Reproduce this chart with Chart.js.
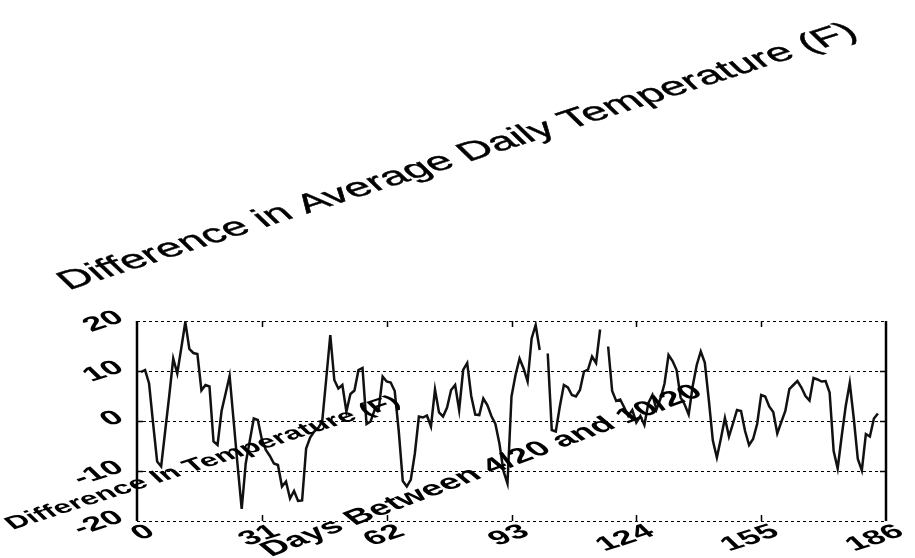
<!DOCTYPE html>
<html>
<head>
<meta charset="utf-8">
<script src="https://cdn.jsdelivr.net/npm/chart.js@4/dist/chart.umd.min.js"></script>
<style>
html,body{margin:0;padding:0;background:#fff;}
#wrap{width:915px;height:558px;}
</style>
</head>
<body>
<div id="wrap"><canvas id="c" width="915" height="558"></canvas></div>
<script>
// ---- data ----
const days = [1,2,3,4,5,6,7,8,9,10,11,12,13,14,15,16,17,18,19,20,21,22,23,24,25,26,27,28,29,30,
31,32,33,34,35,36,37,38,39,40,41,42,43,44,45,46,47,48,49,50,51,52,53,54,55,56,57,58,59,60,
61,62,63,64,65,66,67,68,69,70,71,72,73,74,75,76,77,78,79,80,81,82,83,84,85,86,87,88,89,90,
91,92,93,94,95,96,97,98,99,100,101,102,103,104,105,106,107,108,109,110,111,112,113,114,115,116,117,118,119,120,
121,122,123,124,125,126,127,128,129,130,131,132,133,134,135,136,137,138,139,140,141,142,143,144,145,146,147,148,149,150,
151,152,153,154,155,156,157,158,159,160,161,162,163,164,165,166,167,168,169,170,171,172,173,174,175,176,177,178,179,180,
181,182,183,184];
const tempDiff = [
9.8,10.2,7.5,-0.5,-8.1,-9.1,-2,5,12.5,9.5,
14.6,19.8,14.4,13.6,13.4,6.1,7.2,6.9,-4.1,-4.8,
2,5.5,9,0,-9,-17.6,-8.5,-4,0.5,0.2,
-3.7,-5.8,-7,-8.5,-8.8,-13.1,-12.1,-15.5,-14,-16,
-15.9,-5.5,-3.3,-2.1,-1.4,0,8.5,17.2,8.2,6.5,
7.2,1.9,5.4,6.1,10.2,10.6,-0.6,-0.1,2.2,2.2,
8.9,7.9,7.7,6,-2,-12,-13.1,-11.7,-6.5,0.9,
0.7,1.1,-1.1,6.3,1.7,0.9,2.7,6.2,7.2,2.2,
10.2,11.6,5,1.3,1.2,4.5,3.2,1,-0.6,-4.5,
-10,-12.5,4.9,9.2,12.5,10.5,7.9,16.5,19.2,14.2,
null,13.5,-1.8,-2.1,2.9,7.2,6.7,5.2,4.9,6.2,
9.9,10.3,12.9,11.6,18.3,null,14.9,6,4,4.3,
2.7,1,2.2,-0.3,1,-0.8,3.6,5.2,2.3,4.5,
7.5,13.2,12,10.2,4.7,3.3,1.3,7,11.2,13.9,
11.7,4.2,-3.9,-7.3,-3.5,0.6,-3.1,-0.5,2.2,2,
-2,-4.8,-3.6,-0.6,5.2,4.9,2.9,1.8,-2.5,-0.2,
2,6.4,7.2,8,6.7,5,4.1,8.6,8.3,7.9,
8,5.7,-6,-9.5,-3,3,7.6,0.5,-7.6,-9.9,
-2.6,-3.1,0.5,1.5];
const xTicks = [0,31,62,93,124,155,186];
const yTicks = [-20,-10,0,10,20];
const titleText = 'Difference in Average Daily Temperature (F)';
const xLabelText = 'Days Between 4/20 and 10/20';
const yLabelText = 'Difference In Temperature (F)';

const FAM = '"Liberation Sans", Arial, Helvetica, sans-serif';

function skewText(ctx, text, x, y, o) {
  ctx.save();
  ctx.translate(x, y);
  ctx.scale(o.k, 1);
  ctx.rotate(-o.angle * Math.PI / 180);
  ctx.font = o.font;
  ctx.textAlign = o.align || 'center';
  ctx.textBaseline = o.baseline || 'middle';
  ctx.fillStyle = '#000';
  ctx.fillText(text, 0, 0);
  if (o.stroke) {
    ctx.lineWidth = o.stroke;
    ctx.strokeStyle = '#000';
    ctx.strokeText(text, 0, 0);
  }
  ctx.restore();
}

const decor = {
  id: 'decor',
  afterDraw(chart) {
    const ctx = chart.ctx;
    const a = chart.chartArea;
    const xs = chart.scales.x, ys = chart.scales.y;
    ctx.save();
    ctx.strokeStyle = '#000';
    // left and right borders
    ctx.lineWidth = 2.5;
    ctx.beginPath();
    ctx.moveTo(a.left, a.top); ctx.lineTo(a.left, a.bottom);
    ctx.moveTo(a.right, a.top); ctx.lineTo(a.right, a.bottom);
    ctx.stroke();
    // inward tick marks
    ctx.lineWidth = 1.5;
    ctx.beginPath();
    xTicks.forEach(v => {
      if (v === xs.min || v === xs.max) return;
      const px = Math.round(xs.getPixelForValue(v)) + 0.5;
      ctx.moveTo(px, a.bottom); ctx.lineTo(px, a.bottom - 6);
      ctx.moveTo(px, a.top); ctx.lineTo(px, a.top + 6);
    });
    yTicks.forEach(v => {
      if (v === ys.min || v === ys.max) return;
      const py = Math.round(ys.getPixelForValue(v)) + 0.5;
      ctx.moveTo(a.left, py); ctx.lineTo(a.left + 6, py);
      ctx.moveTo(a.right, py); ctx.lineTo(a.right - 6, py);
    });
    ctx.stroke();
    ctx.restore();

    const K = 1.8;
    // y tick labels
    yTicks.forEach(v => {
      skewText(ctx, String(v), a.left - 16, ys.getPixelForValue(v) - 5,
        {k: K, angle: 30, font: 'bold 20px ' + FAM, align: 'right'});
    });
    // x tick labels
    xTicks.forEach(v => {
      skewText(ctx, String(v), xs.getPixelForValue(v) + 15, a.bottom + 9,
        {k: K, angle: 30, font: 'bold 20px ' + FAM, align: 'right'});
    });
    // title
    skewText(ctx, titleText, 458, 157, {k: K, angle: 30, font: '26px ' + FAM, stroke: 0.4});
    // y label
    skewText(ctx, yLabelText, 203, 463, {k: K, angle: 30, font: 'bold 18px ' + FAM});
    // x label
    skewText(ctx, xLabelText, 482, 471, {k: K, angle: 34, font: 'bold 21px ' + FAM});
  }
};

new Chart(document.getElementById('c'), {
  type: 'line',
  data: {
    datasets: [{
      data: days.map((d, i) => ({x: d, y: tempDiff[i]})),
      borderColor: '#111',
      borderWidth: 2.5,
      pointRadius: 0,
      tension: 0,
      spanGaps: false,
      fill: false
    }]
  },
  options: {
    responsive: false,
    animation: false,
    events: [],
    layout: {padding: {left: 137, right: 29, top: 321, bottom: 37}},
    plugins: {legend: {display: false}, tooltip: {enabled: false}, title: {display: false}},
    scales: {
      x: {
        type: 'linear', min: 0, max: 186,
        ticks: {display: false},
        grid: {display: false, drawTicks: false},
        border: {display: false}
      },
      y: {
        min: -20, max: 20,
        ticks: {display: false, stepSize: 10},
        grid: {color: '#000', lineWidth: 1, drawTicks: false, tickLength: 0},
        border: {display: false, dash: [3, 3]}
      }
    }
  },
  plugins: [decor]
});
</script>
</body>
</html>
